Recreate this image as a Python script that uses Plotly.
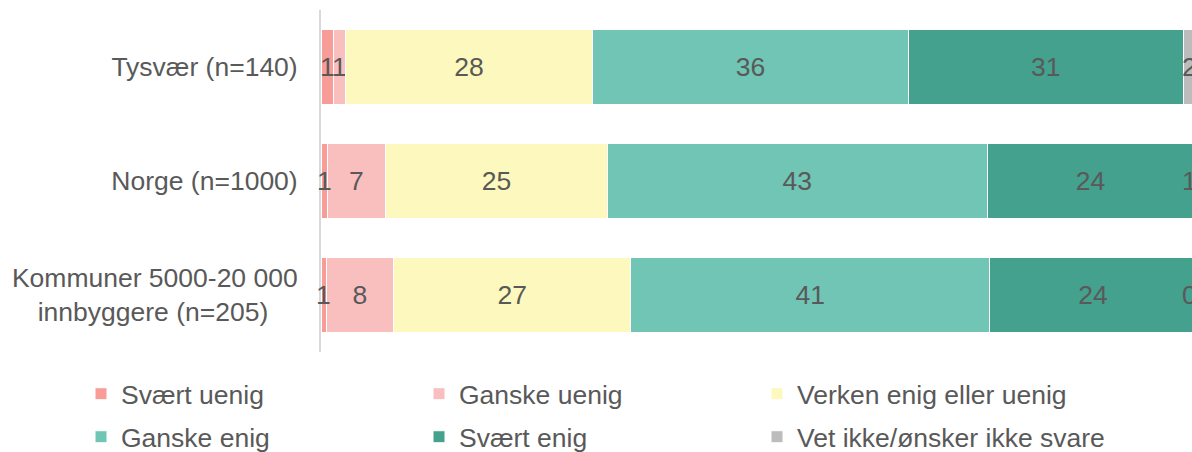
import plotly.graph_objects as go

categories = ["Tysvær (n=140)", "Norge (n=1000)",
              "Kommuner 5000-20 000<br>innbyggere (n=205)\u00a0\u00a0\u00a0\u00a0"]
series_names = ["Svært uenig", "Ganske uenig", "Verken enig eller uenig",
                "Ganske enig", "Svært enig", "Vet ikke/ønsker ikke svare"]
svaert_uenig = [1.4, 0.7, 0.6]
ganske_uenig = [1.4, 6.7, 7.7]
verken = [28.2, 25.3, 27.1]
ganske_enig = [36.1, 43.4, 41.0]
svaert_enig = [31.4, 23.6, 23.6]
vet_ikke = [1.6, 0.6, 0.2]
colors = ["#F79C97", "#F9BFBF", "#FDF8BD", "#70C5B4", "#44A18D", "#BCBCBC"]

all_series = [svaert_uenig, ganske_uenig, verken, ganske_enig, svaert_enig, vet_ikke]
legend_ids = ["legend", "legend", "legend", "legend2", "legend2", "legend3"]
text_color = "#595959"
font_family = "Liberation Sans, Arial, sans-serif"
fsize = 26.5
xmax = 99.5

W, H = 1192, 452
ML, MT, MB = 321, 10, 100
plot_w = W - ML
plot_h = H - MT - MB

fig = go.Figure()
n = len(all_series)
for i, (name, vals, col) in enumerate(zip(series_names, all_series, colors)):
    own_text = 0 < i < n - 1  # first and last series are labelled with annotations
    fig.add_trace(go.Bar(
        y=categories, x=vals, name=name, orientation="h",
        marker=dict(color=col, line=dict(color="white", width=1)),
        texttemplate="%{x:.0f}" if own_text else None,
        textposition="inside" if own_text else "none",
        insidetextanchor="middle", constraintext="none", textangle=0,
        insidetextfont=dict(color=text_color, size=fsize, family=font_family),
        legend=legend_ids[i],
        hoverinfo="skip",
    ))

label_font = dict(color=text_color, size=fsize, family=font_family)
# first series: labels centred on the thin segments (not clipped at the axis)
for cat, v in zip(categories, svaert_uenig):
    fig.add_annotation(x=v / 2, y=cat, xref="x", yref="y", text=f"{v:.0f}",
                       showarrow=False, xanchor="center", font=label_font)
# last series: labels kept at the chart edge
for cat, v in zip(categories, vet_ikke):
    fig.add_annotation(x=xmax, y=cat, xref="x", yref="y", text=f"{v:.0f}",
                       showarrow=False, xanchor="center", xshift=-3, font=label_font)

col_left = 81
col_step = 338
row_y = [394, 437]


def px_x(p):
    return (p - ML) / plot_w


def px_y(p):
    return 1 - (p - MT) / plot_h


legend_common = dict(orientation="h", xref="paper", yref="paper",
                     xanchor="left", yanchor="middle",
                     itemwidth=30,
                     font=dict(color=text_color, size=fsize, family=font_family),
                     bgcolor="rgba(0,0,0,0)", traceorder="normal")

fig.update_layout(
    width=W, height=H,
    margin=dict(l=ML, r=0, t=MT, b=MB, pad=0, autoexpand=False),
    barmode="stack", bargap=0.34,
    plot_bgcolor="white", paper_bgcolor="white",
    font=dict(family=font_family, color=text_color, size=fsize),
    showlegend=True,
    legend=dict(x=px_x(col_left), y=px_y(row_y[0]), entrywidth=col_step - 45,
                entrywidthmode="pixels", **legend_common),
    legend2=dict(x=px_x(col_left), y=px_y(row_y[1]), entrywidth=col_step - 45,
                 entrywidthmode="pixels", **legend_common),
    legend3=dict(x=px_x(col_left + 2 * col_step), y=px_y(row_y[1]), **legend_common),
    xaxis=dict(range=[0, xmax], visible=False, fixedrange=True),
    yaxis=dict(autorange="reversed", showline=True, linecolor="#D9D9D9",
               linewidth=2, ticks="", showgrid=False, ticklabelstandoff=16,
               automargin=False, fixedrange=True,
               tickfont=dict(color=text_color, size=fsize, family=font_family)),
)

fig.write_html("out.html",
               config={"displayModeBar": False},
               post_script="document.body.style.margin='0';"
                           "document.body.style.overflow='hidden';")
